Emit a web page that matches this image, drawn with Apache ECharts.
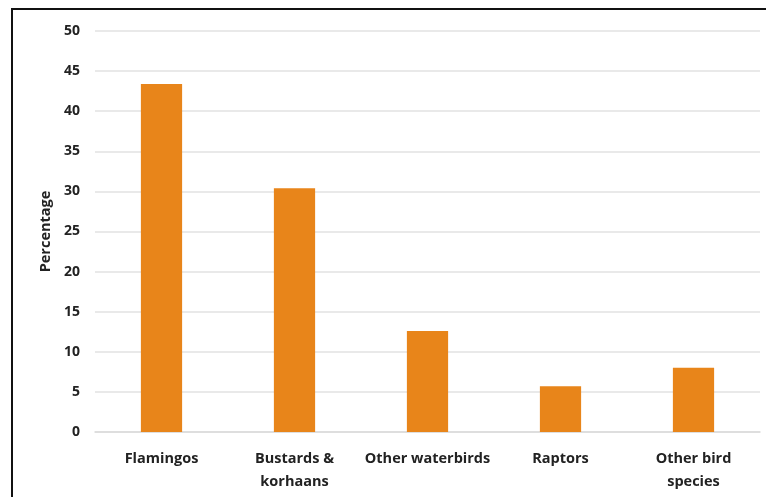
<!DOCTYPE html>
<html>
<head>
<meta charset="utf-8">
<script src="https://cdn.jsdelivr.net/npm/echarts@6/dist/echarts.min.js"></script>
<style>
  html, body { margin: 0; padding: 0; background: #fff; }
  #chart { width: 766px; height: 497px; }
</style>
</head>
<body>
<div id="chart"></div>
<script>
var categories = ['Flamingos', 'Bustards &\nkorhaans', 'Other waterbirds', 'Raptors', 'Other bird\nspecies'];
var percentages = [43.4, 30.4, 12.6, 5.7, 8.0];
var yTicks = { min: 0, max: 50, interval: 5 };

var chart = echarts.init(document.getElementById('chart'));
chart.setOption({
  animation: false,
  backgroundColor: '#fff',
  graphic: [{
    type: 'rect',
    shape: { x: 12, y: 9, width: 800, height: 520 },
    style: { fill: 'none', stroke: '#111', lineWidth: 2 }
  }],
  grid: { left: 95, right: 6, top: 31, bottom: 65 },
  xAxis: {
    type: 'category',
    data: categories,
    axisLine: { lineStyle: { color: '#dadada', width: 1.5 } },
    axisTick: { show: false },
    axisLabel: {
      interval: 0,
      margin: 15,
      color: '#222',
      fontFamily: 'Open Sans',
      fontWeight: 'bold',
      fontSize: 14.5,
      lineHeight: 23
    }
  },
  yAxis: {
    type: 'value',
    min: yTicks.min,
    max: yTicks.max,
    interval: yTicks.interval,
    name: 'Percentage',
    nameLocation: 'middle',
    nameGap: 42,
    nameTextStyle: { color: '#222', fontFamily: 'Open Sans', fontWeight: 'bold', fontSize: 14.5 },
    axisLine: { show: false },
    axisTick: { show: false },
    splitLine: { lineStyle: { color: '#e2e2e2', width: 1.5 } },
    axisLabel: {
      margin: 15,
      color: '#222',
      fontFamily: 'Open Sans',
      fontWeight: 'bold',
      fontSize: 14
    }
  },
  series: [{
    type: 'bar',
    data: percentages,
    barWidth: '31%',
    itemStyle: { color: '#E8851A' }
  }]
});
</script>
</body>
</html>
